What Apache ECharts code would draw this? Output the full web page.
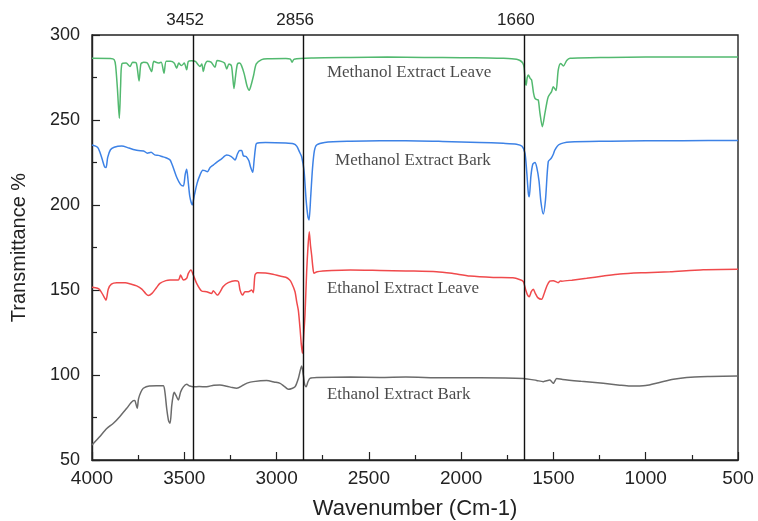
<!DOCTYPE html>
<html>
<head>
<meta charset="utf-8">
<script src="https://cdn.jsdelivr.net/npm/echarts@6/dist/echarts.min.js"></script>
<style>html,body{margin:0;padding:0;background:#fff;}#c{width:758px;height:521px;}</style>
</head>
<body>
<div id="c"></div>
<script>
var xTicks = [4000, 3500, 3000, 2500, 2000, 1500, 1000, 500];
var yTicks = [50, 100, 150, 200, 250, 300];
var peakLines = [3452, 2856, 1660];

var methanolLeave = [[4000,286.3],[3900,286.2],[3880,285.5],[3872,282],[3862,268],[3852,251],[3845,270],[3838,283],[3815,283.5],[3794,281.5],[3780,284],[3760,283.5],[3745,273],[3735,283],[3720,284],[3700,283.5],[3677,278.5],[3665,284.5],[3640,283.5],[3625,284],[3610,277.5],[3598,284.5],[3575,284.5],[3555,283.5],[3541,280.5],[3530,283.5],[3515,282],[3500,283.5],[3487,279.5],[3478,284.5],[3460,284.8],[3440,284.5],[3425,282.5],[3415,281.5],[3405,283],[3397,278.5],[3388,282.5],[3375,284.5],[3355,284],[3334,281],[3322,285],[3300,284.5],[3282,283.5],[3270,280],[3258,283],[3245,282],[3238,276],[3231,268.5],[3222,276],[3212,283],[3200,283.5],[3190,282],[3175,277],[3160,270],[3148,267.5],[3138,270.5],[3125,276],[3110,283],[3081,285.5],[3050,286],[2950,286.2],[2925,285.8],[2916,284],[2905,285.8],[2800,286.5],[2600,286.8],[2400,287],[2200,286.8],[2000,286.6],[1850,286.5],[1773,286.3],[1700,285.8],[1681,285],[1666,283.5],[1659,281],[1652,272],[1648,270.5],[1642,275],[1636,276.5],[1626,274.5],[1618,273.5],[1608,266],[1600,262.7],[1590,262],[1582,261.8],[1573,254],[1560,246],[1546,254],[1536,260],[1528,263.7],[1510,266.7],[1501,269.6],[1486,267.3],[1474,279.4],[1461,283.3],[1446,281.8],[1428,285],[1410,286.3],[1200,286.8],[1000,287],[800,287],[500,287]];

var methanolBark = [[4000,235.3],[3970,234],[3957,231],[3945,227],[3932,222.5],[3924,222],[3915,228],[3900,232.5],[3880,234],[3839,234.7],[3800,233.5],[3770,232.5],[3749,232],[3720,231.8],[3700,230.5],[3680,231],[3660,229.5],[3640,229.2],[3620,228.5],[3600,227.8],[3577,226.5],[3560,222],[3540,216],[3520,212],[3505,211.2],[3495,218],[3487,221],[3480,215],[3470,205],[3457,200],[3445,206],[3430,213],[3415,217.6],[3400,220.5],[3388,220.2],[3375,219.5],[3360,222],[3343,223.5],[3320,225.5],[3300,227],[3270,229.4],[3245,228.5],[3225,226.5],[3212,230],[3200,232],[3189,232],[3180,229],[3165,228.5],[3150,226],[3140,222],[3129,219.2],[3122,226],[3115,233],[3108,236.3],[3060,236.8],[2950,236.5],[2909,236],[2890,234.5],[2875,231],[2864,228.4],[2851,220],[2840,203],[2830,193],[2824,191.2],[2815,205],[2805,222],[2795,232],[2783,235.3],[2740,236.8],[2600,237.5],[2440,237.8],[2300,237.8],[2100,237.4],[1900,236.8],[1772,236.3],[1700,235.8],[1670,234.5],[1654,230.4],[1645,220],[1636,207],[1631,204.9],[1622,217],[1612,224],[1600,225],[1590,222],[1578,214],[1568,202],[1555,194.7],[1543,203],[1528,225.5],[1512,227.5],[1500,230],[1492,232.4],[1470,235.5],[1410,237],[1200,237.5],[1000,237.8],[800,237.8],[500,238]];

var ethanolLeave = [[4000,151.6],[3970,151],[3957,150],[3940,147],[3924,144.1],[3912,150.5],[3895,153.5],[3866,154.3],[3820,154.3],[3790,153.5],[3758,152.4],[3730,150.5],[3710,148],[3695,146.7],[3675,148],[3650,151.5],[3632,153.9],[3600,155.5],[3577,155.9],[3532,155.9],[3526,157],[3520,158.8],[3505,155.9],[3487,156.9],[3478,159.8],[3464,161.8],[3451,158.8],[3433,153.9],[3406,149.4],[3379,149],[3352,148],[3343,149.6],[3321,147],[3289,152],[3262,154.3],[3225,155.5],[3207,155],[3198,150],[3184,147],[3171,149],[3153,149],[3135,150],[3126,148.4],[3117,158.8],[3104,160.2],[3060,160],[3020,159.3],[2981,158.2],[2950,157.5],[2930,156],[2918,154],[2900,149],[2891,143.1],[2882,138],[2873,127.5],[2866,118],[2860,112.7],[2852,125],[2846,135.3],[2837,160.8],[2830,175],[2823,184.3],[2816,176],[2810,170.6],[2803,163],[2797,159.8],[2780,160.8],[2700,161.5],[2600,161.8],[2440,161.5],[2300,161.2],[2133,160.8],[2050,159.8],[1952,158.2],[1826,157.4],[1720,157.2],[1680,156],[1663,154.9],[1650,150],[1640,147],[1631,146.1],[1620,149],[1609,150.4],[1598,148],[1585,145.5],[1564,144.5],[1550,148],[1535,152.5],[1520,155.2],[1501,155.5],[1474,154.3],[1462,155.3],[1455,155.2],[1400,155.8],[1320,156.9],[1230,158.2],[1140,159.4],[1000,160.2],[869,160.8],[688,161.9],[500,162.2]];

var ethanolBark = [[4000,58.8],[3960,63.5],[3920,68.5],[3884,71.6],[3850,75.5],[3812,80.4],[3790,83.5],[3776,84.9],[3768,85],[3762,83],[3755,80.4],[3748,86],[3735,90],[3722,92.2],[3690,93.6],[3650,93.7],[3614,93.7],[3605,90],[3595,80],[3585,73],[3577,71.6],[3568,82],[3560,88],[3554,89.8],[3545,88],[3532,85.3],[3520,90],[3505,93],[3487,94.5],[3470,93.5],[3451,93.1],[3420,93.2],[3379,93.1],[3340,94],[3307,94.1],[3270,93.4],[3240,92.6],[3216,92.2],[3180,94.1],[3160,95.2],[3126,96.1],[3054,96.7],[3010,95.8],[2981,95.1],[2960,93.5],[2936,91.6],[2900,93.1],[2882,98],[2864,105.3],[2855,100],[2848,94.5],[2840,93.1],[2830,96],[2819,98],[2780,98.5],[2600,98.8],[2440,98.6],[2300,98.8],[2100,98.4],[1900,98.4],[1663,98],[1591,96.8],[1555,96.1],[1519,97],[1501,95.1],[1482,98],[1450,97.4],[1350,96.3],[1230,95.1],[1140,94],[1085,93.5],[1000,93.8],[930,95.5],[850,97.5],[778,98.6],[650,99.1],[500,99.4]];

var seriesNames = ['Methanol Extract Leave', 'Methanol Extract Bark', 'Ethanol Extract Leave', 'Ethanol Extract Bark'];
var seriesColors = ['#52b96f', '#3d82e6', '#f04a4c', '#6b6b6b'];
var textLabels = [[2727, 278.1, 'Methanol Extract Leave'], [2683, 226.1, 'Methanol Extract Bark'], [2727, 150.6, 'Ethanol Extract Leave'], [2727, 88.8, 'Ethanol Extract Bark']];

var chart = echarts.init(document.getElementById('c'), null, {renderer: 'canvas'});
var datasets = [methanolLeave, methanolBark, ethanolLeave, ethanolBark];
var series = datasets.map(function (d, i) {
  return {
    name: seriesNames[i],
    type: 'line',
    data: d,
    showSymbol: false,
    smooth: 0.25,
    lineStyle: {color: seriesColors[i], width: 1.5},
    itemStyle: {color: seriesColors[i]},
    z: 3
  };
});
series.push({
  type: 'line',
  data: [],
  markLine: {
    silent: true,
    symbol: 'none',
    animation: false,
    lineStyle: {color: '#111', width: 1.4, type: 'solid'},
    label: {show: true, position: 'end', formatter: '{c}', color: '#222', fontFamily: 'Liberation Sans, Arial', fontSize: 17, distance: 6, padding: [0, 16, 0, 0]},
    data: peakLines.map(function (v) { return {xAxis: v}; })
  },
  z: 2
});
series.push({
  type: 'scatter',
  symbolSize: 0,
  silent: true,
  data: textLabels.map(function (t) { return {value: [t[0], t[1]], name: t[2]}; }),
  label: {show: true, position: 'right', distance: 0, formatter: '{b}', color: '#1a1a1a', fontFamily: 'Liberation Serif, Times New Roman, serif', fontSize: 17},
  z: 4
});

chart.setOption({
  animation: false,
  backgroundColor: '#fff',
  grid: {left: 92, right: 20, top: 35, bottom: 61, outerBoundsMode: 'none', containLabel: false, show: true, borderColor: '#222', borderWidth: 1.4, backgroundColor: 'transparent'},
  xAxis: {
    type: 'value',
    inverse: true,
    min: 500,
    max: 4000,
    interval: 500,
    name: 'Wavenumber (Cm-1)',
    nameLocation: 'middle',
    nameGap: 38,
    nameTextStyle: {fontFamily: 'Liberation Sans, Arial', fontSize: 22, color: '#222'},
    axisLine: {show: true, lineStyle: {color: '#222', width: 1.4}},
    axisTick: {show: true, inside: true, length: 8, lineStyle: {color: '#222', width: 1.2}},
    minorTick: {show: true, splitNumber: 2, length: 5, lineStyle: {color: '#222', width: 1.2}},
    axisLabel: {fontFamily: 'Liberation Sans, Arial', fontSize: 19, color: '#222', margin: 9,
      formatter: function (v) { return xTicks.indexOf(v) >= 0 ? String(v) : ''; }},
    splitLine: {show: false}
  },
  yAxis: {
    type: 'value',
    min: 50,
    max: 300,
    interval: 50,
    name: 'Transmittance %',
    nameLocation: 'middle',
    nameGap: 63,
    nameTextStyle: {fontFamily: 'Liberation Sans, Arial', fontSize: 20, color: '#222'},
    axisLine: {show: true, lineStyle: {color: '#222', width: 1.4}},
    axisTick: {show: true, inside: true, length: 8, lineStyle: {color: '#222', width: 1.2}},
    minorTick: {show: true, splitNumber: 2, length: 5, lineStyle: {color: '#222', width: 1.2}},
    axisLabel: {fontFamily: 'Liberation Sans, Arial', fontSize: 18, color: '#222', margin: 12,
      formatter: function (v) { return yTicks.indexOf(v) >= 0 ? String(v) : ''; }},
    splitLine: {show: false}
  },
  series: series
});
</script>
</body>
</html>
